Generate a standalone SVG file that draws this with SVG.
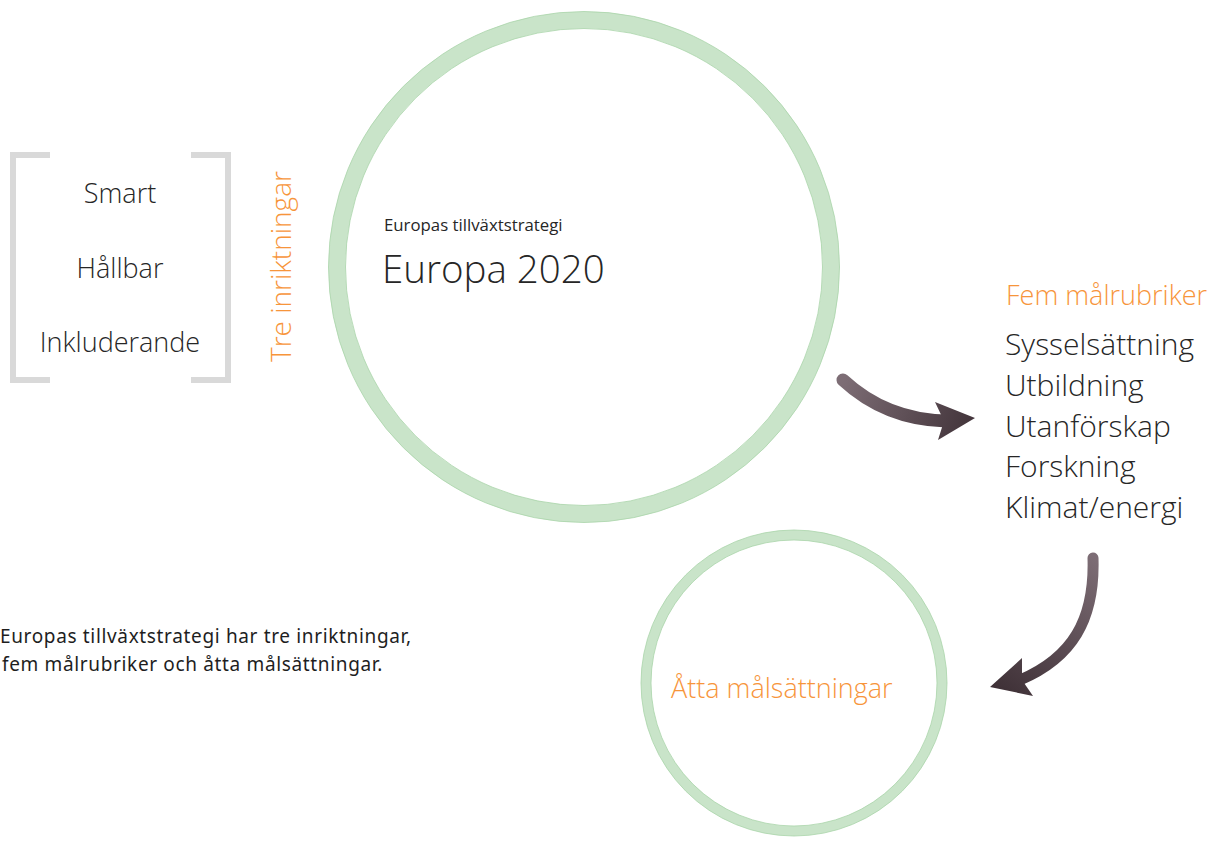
<svg xmlns="http://www.w3.org/2000/svg" width="1220" height="846" viewBox="0 0 1220 846">
<defs>
<style>
.lt{font-family:"Open Sans","Liberation Sans",sans-serif;font-weight:300;fill:#262626}
.or{font-family:"Open Sans","Liberation Sans",sans-serif;font-weight:300;fill:#f7953b}
.rg{font-family:"Open Sans","Liberation Sans",sans-serif;font-weight:400;fill:#262626}
.cap{font-family:"Noto Sans","Liberation Sans",sans-serif;font-weight:400;fill:#1e1e1e;letter-spacing:0.65px}
.ring{fill:none;stroke:#c9e4c9}
.edge{fill:none;stroke:#a9d4a9;stroke-width:0.8}
.br{fill:none;stroke:#d9d9d9;stroke-width:6}
</style>
<linearGradient id="g1" gradientUnits="userSpaceOnUse" x1="843" y1="380" x2="975" y2="440">
<stop offset="0" stop-color="#7d6d75"/><stop offset="1" stop-color="#3f3137"/>
</linearGradient>
<linearGradient id="g2" gradientUnits="userSpaceOnUse" x1="1093" y1="557" x2="1000" y2="690">
<stop offset="0" stop-color="#7d6d75"/><stop offset="1" stop-color="#3f3137"/>
</linearGradient>
</defs>
<rect width="1220" height="846" fill="#ffffff"/>

<g id="bracket">
<path class="br" d="M50,155 H13 V380 H50"/>
<path class="br" d="M191,155 H228 V380 H191"/>
<text class="lt" x="120" y="203" font-size="27" text-anchor="middle">Smart</text>
<text class="lt" x="120" y="278" font-size="27" text-anchor="middle">Hållbar</text>
<text class="lt" x="120" y="352" font-size="27" text-anchor="middle">Inkluderande</text>
</g>

<g id="tre-inriktningar">
<text class="or" font-size="28" transform="translate(291,362) rotate(-90)">Tre inriktningar</text>
</g>

<g id="europa2020">
<circle class="ring" cx="584" cy="267" r="247" stroke-width="17"/>
<circle class="edge" cx="584" cy="267" r="255.5"/>
<circle class="edge" cx="584" cy="267" r="238.5"/>
<text class="rg" x="384" y="231" font-size="16.8">Europas tillväxtstrategi</text>
<text class="lt" x="382" y="283" font-size="38.5">Europa 2020</text>
</g>

<g id="malrubriker">
<text class="or" x="1006" y="305" font-size="27">Fem målrubriker</text>
<text class="lt" x="1005" y="355" font-size="30">Sysselsättning</text>
<text class="lt" x="1005" y="396" font-size="30">Utbildning</text>
<text class="lt" x="1005" y="437" font-size="30">Utanförskap</text>
<text class="lt" x="1005" y="477" font-size="30">Forskning</text>
<text class="lt" x="1005" y="518" font-size="30">Klimat/energi</text>
</g>

<g id="malsattningar">
<circle class="ring" cx="794" cy="683" r="148" stroke-width="10"/>
<circle class="edge" cx="794" cy="683" r="153"/>
<circle class="edge" cx="794" cy="683" r="143"/>
<text class="or" x="671" y="698" font-size="27">Åtta målsättningar</text>
</g>

<g id="caption">
<text class="cap" x="0" y="643" font-size="19">Europas tillväxtstrategi har tre inriktningar,</text>
<text class="cap" x="2" y="671" font-size="19">fem målrubriker och åtta målsättningar.</text>
</g>

<g id="connectors">
<path d="M843,380 C870,405 905,420 946,421" fill="none" stroke="url(#g1)" stroke-width="13" stroke-linecap="round"/>
<polygon points="975,418 935,402 944,421 938,440" fill="url(#g1)"/>
<path d="M1093,558 C1095,620 1072,658 1020,680" fill="none" stroke="url(#g2)" stroke-width="11" stroke-linecap="round"/>
<polygon points="990,687 1022,658 1022,680 1033,696" fill="url(#g2)"/>
</g>
</svg>
